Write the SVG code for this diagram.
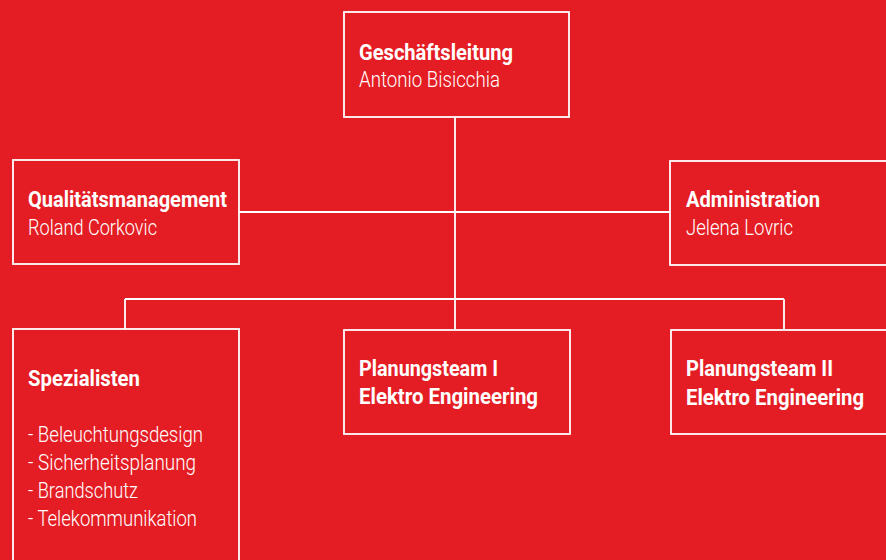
<svg xmlns="http://www.w3.org/2000/svg" width="886" height="560" viewBox="0 0 886 560">
<style>
.box{fill:none;stroke:#fff;stroke-width:1.8}
.ln{fill:none;stroke:#fff;stroke-width:1.8}
text{font-family:Roboto,"Liberation Sans",Arial,sans-serif;font-size:22px;fill:#fff}
.b{font-weight:bold}
.r{font-weight:300}
</style>
<rect width="886" height="560" fill="#E41D24"/>
<g id="connectors">
<path class="ln" d="M455 117V299M239 212H670M125 299H784M125 299V329M455 299V330M784 299V330"/>
</g>
<g id="geschaeftsleitung">
<rect class="box" x="344" y="12" width="225" height="105"/>
<text class="b" x="359" y="60" textLength="154" lengthAdjust="spacingAndGlyphs">Geschäftsleitung</text>
<text class="r" x="359" y="87" textLength="141" lengthAdjust="spacingAndGlyphs">Antonio Bisicchia</text>
</g>
<g id="qualitaet">
<rect class="box" x="13" y="160" width="226" height="104"/>
<text class="b" x="28" y="207" textLength="199" lengthAdjust="spacingAndGlyphs">Qualitätsmanagement</text>
<text class="r" x="28" y="235" textLength="129" lengthAdjust="spacingAndGlyphs">Roland Corkovic</text>
</g>
<g id="administration">
<rect class="box" x="670" y="161" width="230" height="104"/>
<text class="b" x="686" y="207" textLength="134" lengthAdjust="spacingAndGlyphs">Administration</text>
<text class="r" x="686" y="235" textLength="107" lengthAdjust="spacingAndGlyphs">Jelena Lovric</text>
</g>
<g id="spezialisten">
<rect class="box" x="13" y="329" width="226" height="250"/>
<text class="b" x="28" y="386" textLength="112" lengthAdjust="spacingAndGlyphs">Spezialisten</text>
<text class="r" x="28" y="442" textLength="175" lengthAdjust="spacingAndGlyphs">- Beleuchtungsdesign</text>
<text class="r" x="28" y="470" textLength="168" lengthAdjust="spacingAndGlyphs">- Sicherheitsplanung</text>
<text class="r" x="28" y="498" textLength="110" lengthAdjust="spacingAndGlyphs">- Brandschutz</text>
<text class="r" x="28" y="526" textLength="169" lengthAdjust="spacingAndGlyphs">- Telekommunikation</text>
</g>
<g id="planungsteam1">
<rect class="box" x="344" y="330" width="226" height="104"/>
<text class="b" x="359" y="376" textLength="139" lengthAdjust="spacingAndGlyphs">Planungsteam I</text>
<text class="b" x="359" y="404" textLength="179" lengthAdjust="spacingAndGlyphs">Elektro Engineering</text>
</g>
<g id="planungsteam2">
<rect class="box" x="671" y="330" width="230" height="104"/>
<text class="b" x="686" y="376" textLength="147" lengthAdjust="spacingAndGlyphs">Planungsteam II</text>
<text class="b" x="686" y="405" textLength="178" lengthAdjust="spacingAndGlyphs">Elektro Engineering</text>
</g>
</svg>
